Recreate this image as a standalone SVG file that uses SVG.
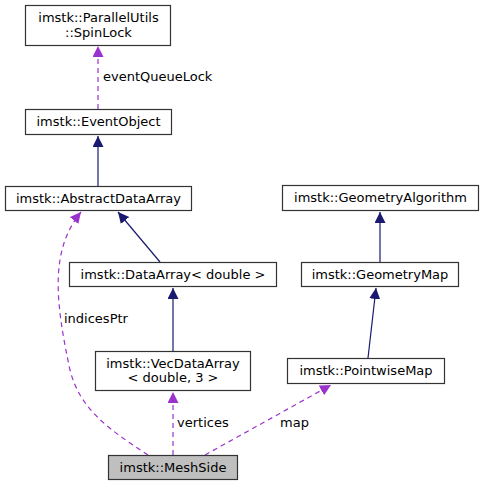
<svg xmlns="http://www.w3.org/2000/svg" width="483" height="487" viewBox="0 0 483 487">
<style>
.n rect{fill:#fff;stroke:#333;stroke-width:1.2}
.n text{font-family:"DejaVu Sans",sans-serif;font-size:13px;text-anchor:middle;fill:#000}
.inh{fill:none;stroke:#191970;stroke-width:1.2}
.use{fill:none;stroke:#9a32cd;stroke-width:1.2;stroke-dasharray:5,4}
.lbl{font-family:"DejaVu Sans",sans-serif;font-size:13px;fill:#000}
</style>
<defs>
<marker id="ah" markerUnits="userSpaceOnUse" markerWidth="12" markerHeight="12" refX="11" refY="5.5" orient="auto"><path d="M0,0 L11,5.5 L0,11 z" fill="#191970"/></marker>
<marker id="ap" markerUnits="userSpaceOnUse" markerWidth="12" markerHeight="12" refX="11" refY="5.5" orient="auto"><path d="M0,0 L11,5.5 L0,11 z" fill="#9a32cd"/></marker>
</defs>
<rect width="483" height="487" fill="#fff"/>
<g id="connectors">
<path class="use" d="M98,109 V46" marker-end="url(#ap)"/>
<text class="lbl" x="103" y="81">eventQueueLock</text>
<path class="inh" d="M98,186 V136" marker-end="url(#ah)"/>
<path class="inh" d="M160,262 L118,212" marker-end="url(#ah)"/>
<path class="inh" d="M380,262 V212" marker-end="url(#ah)"/>
<path class="inh" d="M368,358 L376,288" marker-end="url(#ah)"/>
<path class="inh" d="M173,351 V288" marker-end="url(#ah)"/>
<path class="use" d="M173,455 V392" marker-end="url(#ap)"/>
<text class="lbl" x="177" y="427">vertices</text>
<path class="use" d="M205,455 L331,385" marker-end="url(#ap)"/>
<text class="lbl" x="280" y="427">map</text>
<path class="use" d="M148,455 C110,430 80,410 70,370 C55,300 50,250 81,212" marker-end="url(#ap)"/>
<text class="lbl" x="64" y="323">indicesPtr</text>
</g>
<g id="SpinLock" class="n"><rect x="25.5" y="5.5" width="145" height="40"/><text x="98.5" y="22">imstk::ParallelUtils</text><text x="98.5" y="37">::SpinLock</text></g>
<g id="EventObject" class="n"><rect x="25.5" y="109.5" width="146" height="25"/><text x="98.5" y="126">imstk::EventObject</text></g>
<g id="AbstractDataArray" class="n"><rect x="5.5" y="186.5" width="186" height="24"/><text x="98.5" y="203">imstk::AbstractDataArray</text></g>
<g id="GeometryAlgorithm" class="n"><rect x="282.5" y="185.5" width="196" height="25"/><text x="380.5" y="202">imstk::GeometryAlgorithm</text></g>
<g id="DataArray" class="n"><rect x="69.5" y="262.5" width="207" height="24"/><text x="173" y="279">imstk::DataArray&lt; double &gt;</text></g>
<g id="GeometryMap" class="n"><rect x="301.5" y="262.5" width="157" height="24"/><text x="380" y="279">imstk::GeometryMap</text></g>
<g id="VecDataArray" class="n"><rect x="95.5" y="351.5" width="155" height="39"/><text x="173" y="368">imstk::VecDataArray</text><text x="173" y="382">&lt; double, 3 &gt;</text></g>
<g id="PointwiseMap" class="n"><rect x="287.5" y="358.5" width="157" height="25"/><text x="366" y="375">imstk::PointwiseMap</text></g>
<g id="MeshSide" class="n"><rect x="108.5" y="455.5" width="129" height="24" style="fill:#bfbfbf"/><text x="173" y="472">imstk::MeshSide</text></g>
</svg>
